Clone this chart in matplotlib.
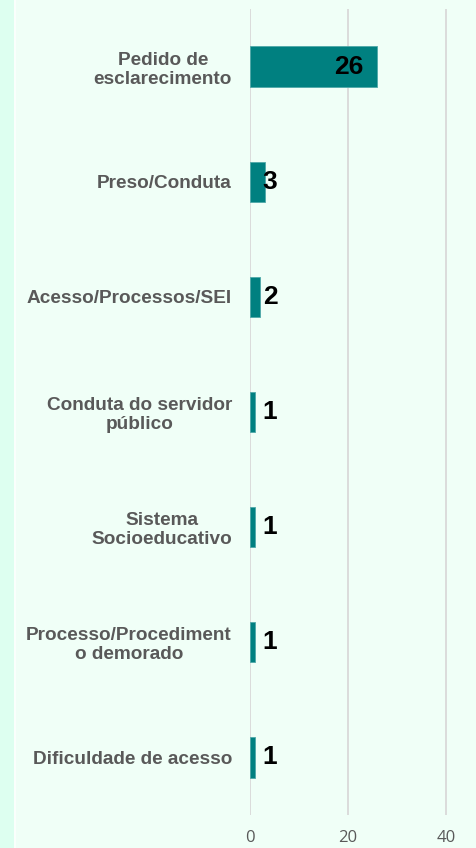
import matplotlib.pyplot as plt
from matplotlib.patches import Rectangle

categories = [
    "Pedido de\nesclarecimento",
    "Preso/Conduta",
    "Acesso/Processos/SEI",
    "Conduta do servidor\npúblico",
    "Sistema\nSocioeducativo",
    "Processo/Procediment\no demorado",
    "Dificuldade de acesso",
]
values = [26, 3, 2, 1, 1, 1, 1]
xticks = [0, 20, 40]

bg = "#F0FFF7"
teal = "#008080"
gray = "#595959"

W, H = 477, 848
fig = plt.figure(figsize=(W / 100, H / 100), dpi=100)
fig.patch.set_facecolor(bg)
fig.patches.append(Rectangle((0, 0), 14 / W, 1, transform=fig.transFigure,
                             facecolor="#DDFFF0", edgecolor="none"))
fig.patches.append(Rectangle((14 / W, 0), 1.5 / W, 1, transform=fig.transFigure,
                             facecolor="#FAFFFC", edgecolor="none"))

ax = fig.add_axes([250 / W, 1 - 815 / H, 1 - 250 / W, (815 - 9) / H])
ax.set_facecolor(bg)

pos = list(range(len(categories)))
ax.barh(pos, values, height=0.35, color=teal, edgecolor="#4FA8A8",
        linewidth=0.6, zorder=3)

ax.set_xlim(0, (W - 250) / 4.9)
ax.set_ylim(len(categories) - 0.5, -0.5)
ax.set_xticks(xticks)
ax.set_xticklabels([str(t) for t in xticks], fontsize=12, color=gray,
                   family="Open Sans")
ax.set_yticks(pos)
ax.set_yticklabels(categories, fontsize=13.7, fontweight="bold", color=gray,
                   family="Liberation Sans", multialignment="center",
                   linespacing=1.15)
ax.tick_params(axis="both", length=0)
ax.tick_params(axis="y", pad=13)
ax.tick_params(axis="x", pad=11)
ax.grid(axis="x", color="#D9D9D9", linewidth=1.3, zorder=0)
for s in ax.spines.values():
    s.set_visible(False)

for p, v in zip(pos, values):
    if v > 10:
        ax.text(v - 2.9, p, str(v), ha="right", va="center", fontsize=19,
                fontweight="bold", color="black", family="Liberation Sans",
                zorder=4)
    else:
        ax.text(2.6, p, str(v), ha="left", va="center", fontsize=19,
                fontweight="bold", color="black", family="Liberation Sans",
                zorder=4)

fig.savefig("out.png", dpi=100, facecolor=bg)
